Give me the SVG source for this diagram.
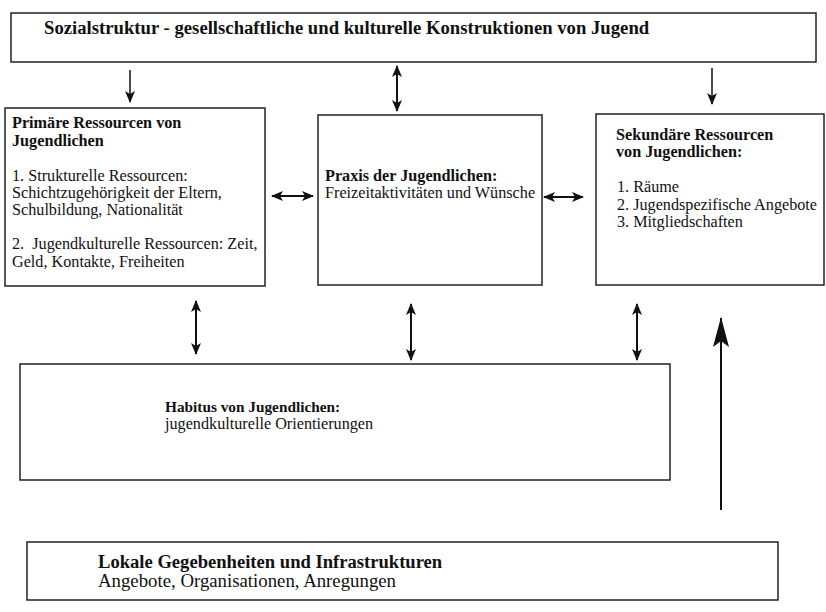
<svg xmlns="http://www.w3.org/2000/svg" width="826" height="612" viewBox="0 0 826 612">
<style>
.box{fill:#fff;stroke:#222;stroke-width:1.5}
.c{stroke:#111;stroke-width:2;fill:none}
.thin{stroke:#111;stroke-width:1.5;fill:none}
</style>
<defs>
<marker id="ah" markerUnits="userSpaceOnUse" markerWidth="12" markerHeight="12" viewBox="0 0 12 12" refX="11" refY="6" orient="auto-start-reverse">
<path d="M0,1 L12,6 L0,11 L3,6 Z" fill="#111"/>
</marker>
<marker id="big" markerUnits="userSpaceOnUse" markerWidth="30" markerHeight="20" viewBox="0 0 30 20" refX="29" refY="10" orient="auto">
<path d="M0,2 L30,10 L0,18 L6,10 Z" fill="#111"/>
</marker>
</defs>
<rect width="826" height="612" fill="#fff"/>
<g id="sozialstruktur">
<rect class="box" x="11" y="13" width="805" height="49"/>
<text font-family="Liberation Serif" font-weight="bold" font-size="18.7" fill="#111" x="44" y="34">Sozialstruktur - gesellschaftliche und kulturelle Konstruktionen von Jugend</text>
</g>
<g id="primaer">
<rect class="box" x="5" y="108" width="260" height="178"/>
<text font-family="Liberation Serif" font-weight="bold" font-size="16.2" fill="#111" x="12" y="128">Primäre Ressourcen von</text>
<text font-family="Liberation Serif" font-weight="bold" font-size="16.2" fill="#111" x="12" y="146">Jugendlichen</text>
<text font-family="Liberation Serif" font-size="16.2" fill="#111" x="12" y="181">1. Strukturelle Ressourcen:</text>
<text font-family="Liberation Serif" font-size="16.2" fill="#111" x="12" y="198">Schichtzugehörigkeit der Eltern,</text>
<text font-family="Liberation Serif" font-size="16.2" fill="#111" x="12" y="215">Schulbildung, Nationalität</text>
<text font-family="Liberation Serif" font-size="16.2" fill="#111" x="12" y="249" xml:space="preserve">2.  Jugendkulturelle Ressourcen: Zeit,</text>
<text font-family="Liberation Serif" font-size="16.2" fill="#111" x="12" y="267">Geld, Kontakte, Freiheiten</text>
</g>
<g id="praxis">
<rect class="box" x="318" y="115" width="224" height="170"/>
<text font-family="Liberation Serif" font-weight="bold" font-size="16.2" fill="#111" x="325" y="181">Praxis der Jugendlichen:</text>
<text font-family="Liberation Serif" font-size="16.2" fill="#111" x="325" y="198">Freizeitaktivitäten und Wünsche</text>
</g>
<g id="sekundaer">
<rect class="box" x="596" y="114" width="228" height="171"/>
<text font-family="Liberation Serif" font-weight="bold" font-size="16.2" fill="#111" x="616" y="140">Sekundäre Ressourcen</text>
<text font-family="Liberation Serif" font-weight="bold" font-size="16.2" fill="#111" x="616" y="157">von Jugendlichen:</text>
<text font-family="Liberation Serif" font-size="16.2" fill="#111" x="617" y="192">1. Räume</text>
<text font-family="Liberation Serif" font-size="16.2" fill="#111" x="617" y="210">2. Jugendspezifische Angebote</text>
<text font-family="Liberation Serif" font-size="16.2" fill="#111" x="617" y="227">3. Mitgliedschaften</text>
</g>
<g id="habitus">
<rect class="box" x="20" y="364" width="650" height="116"/>
<text font-family="Liberation Serif" font-weight="bold" font-size="15.3" fill="#111" x="165" y="412">Habitus von Jugendlichen:</text>
<text font-family="Liberation Serif" font-size="16.2" fill="#111" x="165" y="429">jugendkulturelle Orientierungen</text>
</g>
<g id="lokal">
<rect class="box" x="27" y="542" width="751" height="58"/>
<text font-family="Liberation Serif" font-weight="bold" font-size="18.6" fill="#111" x="98" y="568">Lokale Gegebenheiten und Infrastrukturen</text>
<text font-family="Liberation Serif" font-size="18.8" fill="#111" x="98" y="587">Angebote, Organisationen, Anregungen</text>
</g>
<g id="connectors">
<line class="thin" x1="130" y1="70" x2="130" y2="102" marker-end="url(#ah)"/>
<line class="c" x1="397" y1="66" x2="397" y2="111" marker-start="url(#ah)" marker-end="url(#ah)"/>
<line class="thin" x1="712" y1="68" x2="712" y2="104" marker-end="url(#ah)"/>
<line class="c" x1="272" y1="196" x2="313" y2="196" marker-start="url(#ah)" marker-end="url(#ah)"/>
<line class="c" x1="544" y1="197" x2="583" y2="197" marker-start="url(#ah)" marker-end="url(#ah)"/>
<line class="c" x1="196" y1="301" x2="196" y2="354" marker-start="url(#ah)" marker-end="url(#ah)"/>
<line class="c" x1="411" y1="304" x2="411" y2="360" marker-start="url(#ah)" marker-end="url(#ah)"/>
<line class="c" x1="637" y1="304" x2="637" y2="360" marker-start="url(#ah)" marker-end="url(#ah)"/>
<line class="c" x1="721" y1="510" x2="721" y2="318" marker-end="url(#big)"/>
</g>
</svg>
